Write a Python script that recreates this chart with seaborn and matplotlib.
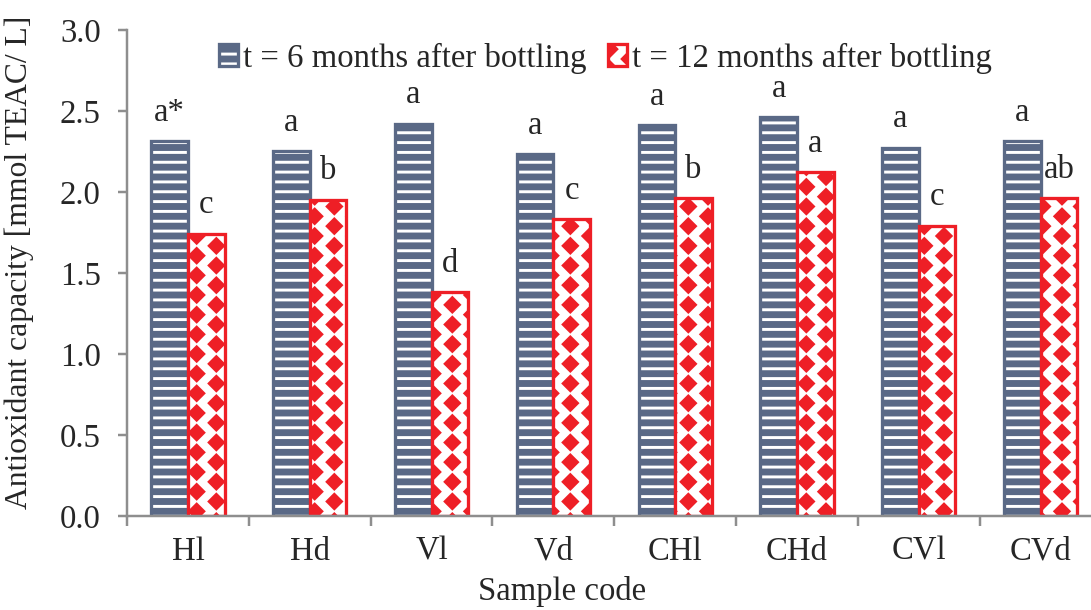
import matplotlib
matplotlib.use('Agg')
import matplotlib.pyplot as plt
import matplotlib.hatch as mhatch
from matplotlib.path import Path
import numpy as np
import pandas as pd
import seaborn as sns

samples = ['Hl', 'Hd', 'Vl', 'Vd', 'CHl', 'CHd', 'CVl', 'CVd']
series = ['t = 6 months after bottling', 't = 12 months after bottling']
cap_6m = [2.31, 2.25, 2.42, 2.23, 2.41, 2.46, 2.27, 2.31]
cap_12m = [1.74, 1.95, 1.38, 1.83, 1.96, 2.12, 1.79, 1.96]
letters_6m = ['a*', 'a', 'a', 'a', 'a', 'a', 'a', 'a']
letters_12m = ['c', 'b', 'd', 'c', 'b', 'a', 'c', 'ab']

blue = '#5a6986'
red = '#ee1f26'
grey = '#8e8e8e'


# filled diamonds in staggered columns, takes over the '*' hatch
class DiamondHatch(mhatch.HatchPatternBase):
    def __init__(self, hatch, density):
        n = hatch.count('*') * density
        self.centres = []
        self.r = 0.0
        if n:
            s = 1.0 / n
            self.r = 0.36 * s
            for i in range(n + 1):
                if i % 2 == 0:
                    ys = np.linspace(0, 1, n + 1)
                else:
                    ys = np.linspace(s / 2, 1 - s / 2, n)
                self.centres += [(i * s, y) for y in ys]
        self.num_vertices = 5 * len(self.centres)

    def set_vertices_and_codes(self, vertices, codes):
        shape = np.array([[0, 1], [1, 0], [0, -1], [-1, 0], [0, 1]]) * self.r
        for k, (x, y) in enumerate(self.centres):
            vertices[5 * k:5 * k + 5] = shape + (x, y)
            codes[5 * k:5 * k + 5] = [Path.MOVETO, Path.LINETO, Path.LINETO,
                                      Path.LINETO, Path.CLOSEPOLY]


mhatch._hatch_types = [DiamondHatch if t is mhatch.Stars else t
                       for t in mhatch._hatch_types]

df = pd.DataFrame({
    'sample': samples * 2,
    'capacity': cap_6m + cap_12m,
    'time': [series[0]] * len(samples) + [series[1]] * len(samples),
})

sns.set_theme(style='ticks')
plt.rcParams['font.family'] = ['Liberation Serif', 'DejaVu Serif']
plt.rcParams['font.size'] = 20
plt.rcParams['hatch.linewidth'] = 1.8

dpi = 118
fig = plt.figure(figsize=(1091.5 / dpi, 610.5 / dpi), dpi=dpi)
ax = fig.add_axes([127 / 1091, 94 / 610, 974 / 1091, 486 / 610])

sns.barplot(data=df, x='sample', y='capacity', hue='time', hue_order=series,
            width=0.6, legend=False, errorbar=None, ax=ax)

for bar in ax.containers[0]:
    bar.set(facecolor=blue, edgecolor=blue, linewidth=2, hatch='--')
    bar._hatch_color = (1, 1, 1, 1)
for bar in ax.containers[1]:
    bar.set(facecolor='white', edgecolor=red, linewidth=2, hatch='*')

ax.bar_label(ax.containers[0], labels=letters_6m, padding=8.5, fontsize=20)
ax.bar_label(ax.containers[1], labels=letters_12m, padding=8.5, fontsize=20)

ax.set_ylim(0, 3)
ax.set_yticks(np.arange(0, 3.01, 0.5))
ax.yaxis.set_major_formatter('{x:.1f}')
ax.set_xlim(-0.5, len(samples) - 0.5)
ax.set_xticks(np.arange(len(samples) + 1) - 0.5, labels=[])
ax.set_xticks(np.arange(len(samples)), labels=samples, minor=True)

ax.tick_params(axis='x', which='major', length=6, width=1.5, color=grey, direction='out')
ax.tick_params(axis='x', which='minor', length=0, pad=12, labelsize=20)
ax.tick_params(axis='y', length=5.5, width=1.5, color=grey, direction='out',
               pad=10.5, labelsize=20)

sns.despine(ax=ax)
for side in ['left', 'bottom']:
    ax.spines[side].set_color(grey)
    ax.spines[side].set_linewidth(1.5)

ax.set_xlabel('Sample code', fontsize=20)
ax.set_ylabel('Antioxidant capacity [mmol TEAC/ L]', fontsize=19.3)
ax.xaxis.set_label_coords(0.4466, -0.1235)
ax.yaxis.set_label_coords(-0.0955, 0.523)

handles = [ax.containers[0][0], ax.containers[1][0]]
ax.legend(handles, series, loc='center', ncol=2, frameon=False, fontsize=20,
          bbox_to_anchor=(605 / 1091, 1 - 58.5 / 610), bbox_transform=fig.transFigure,
          handlelength=0.6, handleheight=0.65, handletextpad=0.15,
          columnspacing=0.64, borderpad=0, borderaxespad=0)

fig.savefig('out.png', dpi=dpi)
